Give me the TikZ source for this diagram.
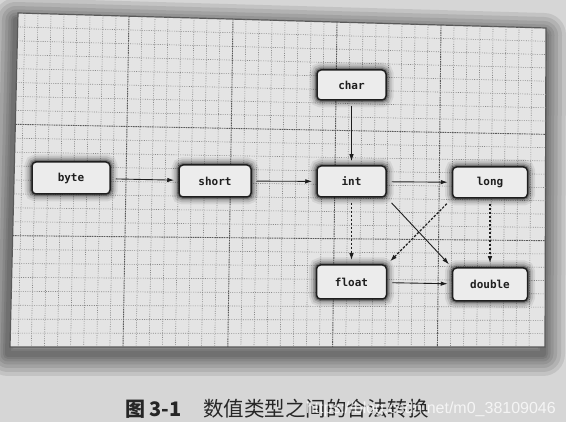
\documentclass[tikz,border=0pt]{standalone}
\usepackage{fontspec}
\newfontfamily\boxfont{DejaVu Sans Mono}
\newfontfamily\cjk{Noto Sans CJK SC}
\newfontfamily\wmfont{Liberation Sans}
\usetikzlibrary{arrows.meta}
\definecolor{bg}{RGB}{214,214,214}
\definecolor{paper}{RGB}{228,228,228}
\definecolor{boxfill}{RGB}{236,236,236}
\definecolor{gridc}{RGB}{138,138,138}
\definecolor{gridm}{RGB}{90,90,90}
\definecolor{ink}{RGB}{30,30,30}
\tikzset{
  typebox/.style={draw=ink, line width=1.5pt, rounded corners=4pt, fill=boxfill,
    inner sep=0pt, font=\boxfont\bfseries\fontsize{11}{13}\selectfont, text=ink,
    preaction={draw=black, line width=15pt, draw opacity=0.07},
    preaction={draw=black, line width=11pt, draw opacity=0.11},
    preaction={draw=black, line width=7pt, draw opacity=0.17},
    preaction={draw=black, line width=4pt, draw opacity=0.27}},
  arr/.style={-{Latex[length=7pt,width=4.5pt]}, line width=0.9pt, draw=ink,
    shorten <=5pt, shorten >=4pt},
  dsh/.style={arr, line width=1.2pt, dash pattern=on 2.5pt off 1.5pt},
  minorgrid/.style={draw=gridc, line width=0.6pt, dash pattern=on 1pt off 1.3pt},
  majorgrid/.style={draw=gridm, line width=0.9pt, dash pattern=on 1.6pt off 0.8pt},
}
\begin{document}
\begin{tikzpicture}[x=1pt,y=-1pt]
\useasboundingbox (0,0) rectangle (566,422);
\fill[bg] (0,0) rectangle (566,422);
% paper shadow
\foreach \w in {44,36,28,21,15,10,6}{
  \draw[black, line width=\w pt, opacity=0.085, line join=round, shift={(-2,7)}]
    (18,13) -- (546,28) -- (545,347) -- (10,347) -- cycle;
}
% paper
\draw[fill=paper, draw=black!65, line width=1.2pt]
  (18,13) -- (546,28) -- (545,347) -- (10,347) -- cycle;
% vertical grid lines
\foreach \k in {0,...,39}{
  \pgfmathsetmacro{\xt}{25+13*\k}
  \pgfmathsetmacro{\yt}{13+(\xt-18)*15/528}
  \pgfmathsetmacro{\xb}{18.2+13.1*\k}
  \pgfmathtruncatemacro{\ismaj}{(mod(\k,8)==0 && \k>0) ? 1 : 0}
  \ifnum\ismaj=1
    \draw[majorgrid] (\xt,\yt) -- (\xb,347);
  \else
    \draw[minorgrid] (\xt,\yt) -- (\xb,347);
  \fi
}
% horizontal grid lines
\foreach \j in {1,...,23}{
  \pgfmathsetmacro{\s}{\j/24}
  \pgfmathsetmacro{\xl}{18-8*\s}
  \pgfmathsetmacro{\yl}{13+334*\s}
  \pgfmathsetmacro{\xr}{546-\s}
  \pgfmathsetmacro{\yr}{28+319*\s}
  \pgfmathtruncatemacro{\ismaj}{(mod(\j,8)==0) ? 1 : 0}
  \ifnum\ismaj=1
    \draw[majorgrid] (\xl,\yl) -- (\xr,\yr);
  \else
    \draw[minorgrid] (\xl,\yl) -- (\xr,\yr);
  \fi
}
% nodes
\node[typebox, minimum width=69pt, minimum height=30pt] (char) at (351.5,85) {char};
\node[typebox, minimum width=78pt, minimum height=32pt] (byte) at (71,178) {byte};
\node[typebox, minimum width=72pt, minimum height=32pt] (short) at (215,181) {short};
\node[typebox, minimum width=69pt, minimum height=31pt] (int) at (351.5,181.5) {int};
\node[typebox, minimum width=75pt, minimum height=31pt] (long) at (490,182.5) {long};
\node[typebox, minimum width=70pt, minimum height=34pt] (float) at (351.5,282) {float};
\node[typebox, minimum width=75pt, minimum height=33pt] (double) at (490,284.5) {double};
% connectors
\draw[arr] (byte) -- (short);
\draw[arr] (short) -- (int);
\draw[arr] (int) -- (long);
\draw[arr] (char) -- (int);
\draw[dsh] (int) -- (float);
\draw[dsh] (long) -- (double);
\draw[arr, shorten <=7pt] (int.south east) -- (double.north west);
\draw[dsh, shorten <=7pt] (long.south west) -- (float.north east);
\draw[arr] (float) -- (double);
% caption
\node[anchor=base west, inner sep=0pt, text=black!85, font=\cjk\bfseries\fontsize{20}{22}\selectfont] (fig) at (125,417) {图 3-1};
\node[anchor=base west, inner sep=0pt, text=black!85, font=\cjk\fontsize{20.5}{22}\selectfont] (cap) at (203,417) {数值类型之间的合法转换};
\node[anchor=base east, inner sep=0pt, text=white, opacity=0.75, font=\wmfont\fontsize{16}{18}\selectfont] (wm) at (556,414) {https://blog.csdn.net/m0\_38109046};
\end{tikzpicture}
\end{document}
